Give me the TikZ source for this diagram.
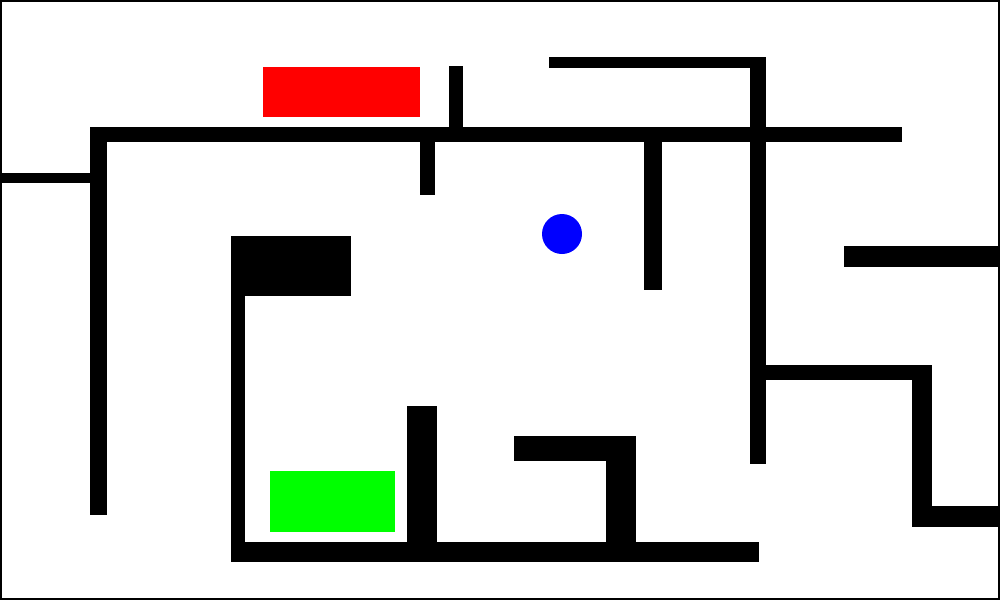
\documentclass[tikz,border=0pt]{standalone}
\usepackage{tikz}

\begin{document}
\begin{tikzpicture}[x=0.01cm,y=-0.01cm,
    wall/.style={fill=black},
    goal/.style={fill=green},
    target/.style={fill=red},
    robot/.style={fill=blue}]
      \useasboundingbox (0,0) rectangle (1000,600);
      \draw[line width=0.6pt] (1,1) rectangle (999,599);
      % walls
      \foreach \a/\b/\c/\d in {
        90/127/902/142, 90/127/107/515, 0/173/90/183,
        420/142/435/195, 449/66/463/128,
        549/57/766/68, 750/57/766/464, 644/142/662/290,
        844/246/1000/267, 750/365/932/380, 912/365/932/527,
        912/506/1000/527, 231/236/351/296, 231/236/245/562,
        231/542/759/562, 407/406/437/542, 514/436/636/461,
        606/436/636/542}
        \fill[wall] (\a,\b) rectangle (\c,\d);
      \fill[target] (263,67) rectangle (420,117);
      \fill[goal] (270,471) rectangle (395,532);
      \fill[robot] (562,234) circle (20);
    \end{tikzpicture}
\end{document}
